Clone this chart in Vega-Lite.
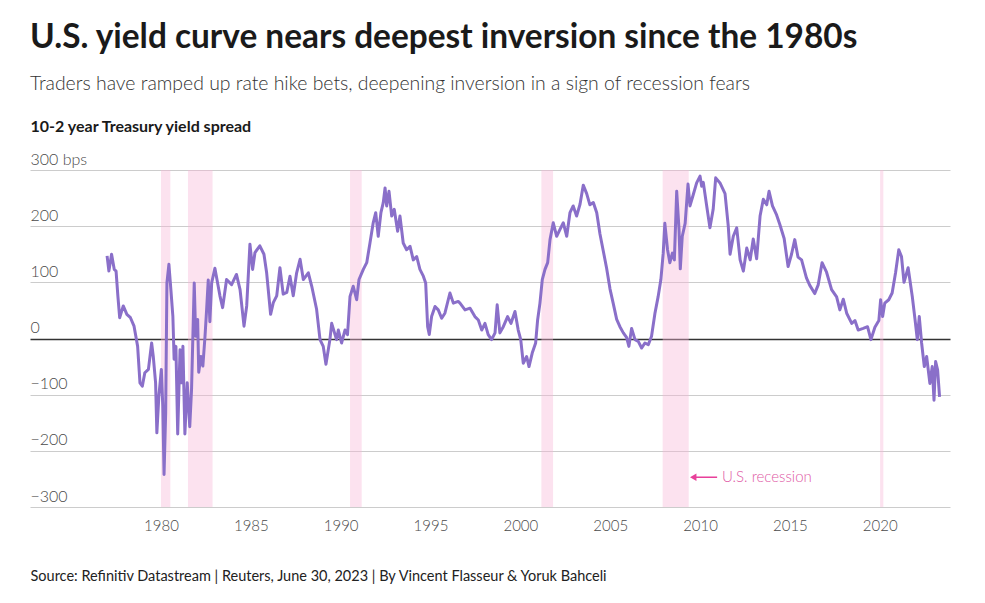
{
  "$schema": "https://vega.github.io/schema/vega-lite/v6.json",
  "width": 920,
  "height": 337,
  "autosize": {"type": "none"},
  "padding": {"left": 30, "top": 170, "right": 35, "bottom": 96},
  "background": "#ffffff",
  "config": {"view": {"stroke": null}, "font": "Lato"},
  "title": {
    "text": "U.S. yield curve nears deepest inversion since the 1980s",
    "subtitle": "Traders have ramped up rate hike bets, deepening inversion in a sign of recession fears",
    "anchor": "start",
    "frame": "group",
    "font": "Lato",
    "fontSize": 33.4,
    "fontWeight": 700,
    "color": "#1a1a1a",
    "subtitleFont": "Lato",
    "subtitleFontSize": 19.4,
    "subtitleFontWeight": 300,
    "subtitleColor": "#333333",
    "subtitlePadding": 19,
    "offset": 24
  },
  "datasets": {
    "recessions": [
      {"year": 1980.0, "end": 1980.52},
      {"year": 1981.5, "end": 1982.87},
      {"year": 1990.52, "end": 1991.17},
      {"year": 2001.17, "end": 2001.82},
      {"year": 2007.92, "end": 2009.37},
      {"year": 2020.02, "end": 2020.2}
    ],
    "arrow": [{"year": 2009.55, "end": 2010.95, "bps": -247}],
    "arrowhead": [{"year": 2009.62, "bps": -247}],
    "label": [{"year": 2011.22, "bps": -247, "text": "U.S. recession"}],
    "spread": [
      {"year": 1977.0, "bps": 147}, {"year": 1977.1, "bps": 120}, {"year": 1977.25, "bps": 150}, {"year": 1977.4, "bps": 123},
      {"year": 1977.5, "bps": 120}, {"year": 1977.6, "bps": 76}, {"year": 1977.7, "bps": 37}, {"year": 1977.9, "bps": 58},
      {"year": 1978.1, "bps": 43}, {"year": 1978.3, "bps": 37}, {"year": 1978.5, "bps": 22}, {"year": 1978.6, "bps": 4},
      {"year": 1978.7, "bps": -14}, {"year": 1978.83, "bps": -79}, {"year": 1978.96, "bps": -85}, {"year": 1979.1, "bps": -61},
      {"year": 1979.3, "bps": -55}, {"year": 1979.48, "bps": -8}, {"year": 1979.57, "bps": -32}, {"year": 1979.7, "bps": -79},
      {"year": 1979.77, "bps": -168}, {"year": 1979.88, "bps": -103}, {"year": 1980.02, "bps": -55}, {"year": 1980.1, "bps": -121},
      {"year": 1980.17, "bps": -242}, {"year": 1980.26, "bps": -133}, {"year": 1980.33, "bps": 99}, {"year": 1980.44, "bps": 132},
      {"year": 1980.55, "bps": 87}, {"year": 1980.66, "bps": 40}, {"year": 1980.73, "bps": -37}, {"year": 1980.83, "bps": -14},
      {"year": 1980.93, "bps": -170}, {"year": 1981.06, "bps": -20}, {"year": 1981.15, "bps": -79}, {"year": 1981.22, "bps": -14},
      {"year": 1981.33, "bps": -170}, {"year": 1981.46, "bps": -79}, {"year": 1981.6, "bps": -157}, {"year": 1981.7, "bps": -91},
      {"year": 1981.85, "bps": 99}, {"year": 1981.93, "bps": 4}, {"year": 1982.04, "bps": 34}, {"year": 1982.1, "bps": -60},
      {"year": 1982.22, "bps": -32}, {"year": 1982.33, "bps": -49}, {"year": 1982.45, "bps": 4}, {"year": 1982.54, "bps": 52},
      {"year": 1982.63, "bps": 104}, {"year": 1982.72, "bps": 30}, {"year": 1982.82, "bps": 99}, {"year": 1983.0, "bps": 125},
      {"year": 1983.28, "bps": 76}, {"year": 1983.43, "bps": 55}, {"year": 1983.65, "bps": 105}, {"year": 1983.93, "bps": 96},
      {"year": 1984.2, "bps": 114}, {"year": 1984.4, "bps": 87}, {"year": 1984.62, "bps": 22}, {"year": 1984.77, "bps": 58},
      {"year": 1984.95, "bps": 168}, {"year": 1985.1, "bps": 123}, {"year": 1985.23, "bps": 153}, {"year": 1985.5, "bps": 165},
      {"year": 1985.73, "bps": 150}, {"year": 1985.88, "bps": 117}, {"year": 1986.1, "bps": 43}, {"year": 1986.25, "bps": 64},
      {"year": 1986.44, "bps": 76}, {"year": 1986.62, "bps": 126}, {"year": 1986.8, "bps": 79}, {"year": 1987.0, "bps": 82},
      {"year": 1987.18, "bps": 111}, {"year": 1987.36, "bps": 76}, {"year": 1987.55, "bps": 117}, {"year": 1987.74, "bps": 141},
      {"year": 1987.92, "bps": 105}, {"year": 1988.2, "bps": 117}, {"year": 1988.39, "bps": 93}, {"year": 1988.66, "bps": 52},
      {"year": 1988.85, "bps": -2}, {"year": 1989.03, "bps": -14}, {"year": 1989.18, "bps": -46}, {"year": 1989.4, "bps": -2},
      {"year": 1989.5, "bps": 27}, {"year": 1989.77, "bps": -2}, {"year": 1989.87, "bps": 15}, {"year": 1990.05, "bps": -8},
      {"year": 1990.24, "bps": 15}, {"year": 1990.38, "bps": 7}, {"year": 1990.52, "bps": 75}, {"year": 1990.7, "bps": 93},
      {"year": 1990.89, "bps": 69}, {"year": 1991.02, "bps": 105}, {"year": 1991.26, "bps": 123}, {"year": 1991.45, "bps": 135},
      {"year": 1991.63, "bps": 170}, {"year": 1991.81, "bps": 206}, {"year": 1991.95, "bps": 224}, {"year": 1992.09, "bps": 182},
      {"year": 1992.24, "bps": 224}, {"year": 1992.37, "bps": 242}, {"year": 1992.47, "bps": 268}, {"year": 1992.56, "bps": 236},
      {"year": 1992.69, "bps": 262}, {"year": 1992.84, "bps": 218}, {"year": 1992.98, "bps": 230}, {"year": 1993.17, "bps": 191},
      {"year": 1993.3, "bps": 218}, {"year": 1993.48, "bps": 170}, {"year": 1993.67, "bps": 158}, {"year": 1993.86, "bps": 164},
      {"year": 1994.04, "bps": 140}, {"year": 1994.23, "bps": 146}, {"year": 1994.41, "bps": 123}, {"year": 1994.6, "bps": 111},
      {"year": 1994.73, "bps": 99}, {"year": 1994.84, "bps": 21}, {"year": 1994.93, "bps": 7}, {"year": 1995.06, "bps": 39},
      {"year": 1995.25, "bps": 57}, {"year": 1995.43, "bps": 51}, {"year": 1995.62, "bps": 36}, {"year": 1995.8, "bps": 45},
      {"year": 1996.08, "bps": 81}, {"year": 1996.27, "bps": 63}, {"year": 1996.54, "bps": 66}, {"year": 1996.64, "bps": 63},
      {"year": 1996.92, "bps": 51}, {"year": 1997.2, "bps": 54}, {"year": 1997.47, "bps": 39}, {"year": 1997.66, "bps": 33},
      {"year": 1997.85, "bps": 15}, {"year": 1998.03, "bps": 27}, {"year": 1998.21, "bps": 7}, {"year": 1998.4, "bps": -2},
      {"year": 1998.59, "bps": 10}, {"year": 1998.71, "bps": 60}, {"year": 1998.86, "bps": 10}, {"year": 1999.05, "bps": 21},
      {"year": 1999.29, "bps": 39}, {"year": 1999.48, "bps": 27}, {"year": 1999.7, "bps": 48}, {"year": 1999.88, "bps": 15},
      {"year": 2000.02, "bps": -2}, {"year": 2000.16, "bps": -44}, {"year": 2000.35, "bps": -32}, {"year": 2000.48, "bps": -50},
      {"year": 2000.66, "bps": -26}, {"year": 2000.85, "bps": -8}, {"year": 2000.96, "bps": 33}, {"year": 2001.09, "bps": 63},
      {"year": 2001.22, "bps": 105}, {"year": 2001.37, "bps": 123}, {"year": 2001.52, "bps": 135}, {"year": 2001.65, "bps": 176},
      {"year": 2001.83, "bps": 206}, {"year": 2002.02, "bps": 182}, {"year": 2002.2, "bps": 194}, {"year": 2002.39, "bps": 206},
      {"year": 2002.58, "bps": 182}, {"year": 2002.76, "bps": 224}, {"year": 2002.94, "bps": 236}, {"year": 2003.13, "bps": 218},
      {"year": 2003.32, "bps": 239}, {"year": 2003.5, "bps": 273}, {"year": 2003.69, "bps": 258}, {"year": 2003.87, "bps": 238},
      {"year": 2004.06, "bps": 242}, {"year": 2004.25, "bps": 224}, {"year": 2004.43, "bps": 186}, {"year": 2004.62, "bps": 155},
      {"year": 2004.8, "bps": 125}, {"year": 2004.99, "bps": 88}, {"year": 2005.17, "bps": 62}, {"year": 2005.36, "bps": 34},
      {"year": 2005.54, "bps": 21}, {"year": 2005.73, "bps": 10}, {"year": 2005.91, "bps": 2}, {"year": 2006.04, "bps": -14},
      {"year": 2006.19, "bps": 18}, {"year": 2006.38, "bps": -2}, {"year": 2006.56, "bps": -5}, {"year": 2006.75, "bps": -17},
      {"year": 2006.93, "bps": -8}, {"year": 2007.12, "bps": -11}, {"year": 2007.3, "bps": 4}, {"year": 2007.49, "bps": 45},
      {"year": 2007.67, "bps": 75}, {"year": 2007.82, "bps": 105}, {"year": 2007.95, "bps": 152}, {"year": 2008.04, "bps": 205},
      {"year": 2008.19, "bps": 158}, {"year": 2008.32, "bps": 135}, {"year": 2008.46, "bps": 152}, {"year": 2008.57, "bps": 140},
      {"year": 2008.7, "bps": 262}, {"year": 2008.83, "bps": 194}, {"year": 2008.9, "bps": 124}, {"year": 2009.01, "bps": 182},
      {"year": 2009.17, "bps": 205}, {"year": 2009.33, "bps": 275}, {"year": 2009.44, "bps": 236}, {"year": 2009.62, "bps": 256},
      {"year": 2009.81, "bps": 277}, {"year": 2010.0, "bps": 289}, {"year": 2010.09, "bps": 271}, {"year": 2010.18, "bps": 278},
      {"year": 2010.36, "bps": 238}, {"year": 2010.55, "bps": 197}, {"year": 2010.73, "bps": 230}, {"year": 2010.87, "bps": 286},
      {"year": 2011.11, "bps": 277}, {"year": 2011.39, "bps": 258}, {"year": 2011.57, "bps": 200}, {"year": 2011.67, "bps": 150},
      {"year": 2011.85, "bps": 182}, {"year": 2012.04, "bps": 197}, {"year": 2012.23, "bps": 140}, {"year": 2012.41, "bps": 120},
      {"year": 2012.6, "bps": 161}, {"year": 2012.79, "bps": 140}, {"year": 2012.96, "bps": 177}, {"year": 2013.15, "bps": 142},
      {"year": 2013.34, "bps": 218}, {"year": 2013.52, "bps": 248}, {"year": 2013.71, "bps": 238}, {"year": 2013.84, "bps": 262},
      {"year": 2014.03, "bps": 236}, {"year": 2014.26, "bps": 220}, {"year": 2014.44, "bps": 203}, {"year": 2014.68, "bps": 178},
      {"year": 2014.9, "bps": 128}, {"year": 2015.09, "bps": 150}, {"year": 2015.27, "bps": 176}, {"year": 2015.45, "bps": 145},
      {"year": 2015.65, "bps": 140}, {"year": 2015.92, "bps": 108}, {"year": 2016.1, "bps": 95}, {"year": 2016.38, "bps": 80},
      {"year": 2016.57, "bps": 95}, {"year": 2016.79, "bps": 135}, {"year": 2017.04, "bps": 118}, {"year": 2017.32, "bps": 87},
      {"year": 2017.6, "bps": 74}, {"year": 2017.78, "bps": 51}, {"year": 2017.97, "bps": 70}, {"year": 2018.16, "bps": 45},
      {"year": 2018.44, "bps": 27}, {"year": 2018.62, "bps": 32}, {"year": 2018.8, "bps": 15}, {"year": 2019.08, "bps": 18},
      {"year": 2019.32, "bps": 21}, {"year": 2019.51, "bps": -2}, {"year": 2019.73, "bps": 20}, {"year": 2019.95, "bps": 32},
      {"year": 2020.05, "bps": 69}, {"year": 2020.16, "bps": 39}, {"year": 2020.28, "bps": 63}, {"year": 2020.5, "bps": 69},
      {"year": 2020.69, "bps": 81}, {"year": 2020.88, "bps": 117}, {"year": 2021.06, "bps": 158}, {"year": 2021.21, "bps": 146},
      {"year": 2021.35, "bps": 100}, {"year": 2021.58, "bps": 126}, {"year": 2021.81, "bps": 75}, {"year": 2021.96, "bps": 35},
      {"year": 2022.09, "bps": -2}, {"year": 2022.2, "bps": 39}, {"year": 2022.33, "bps": -8}, {"year": 2022.48, "bps": -50},
      {"year": 2022.61, "bps": -32}, {"year": 2022.79, "bps": -80}, {"year": 2022.92, "bps": -50}, {"year": 2023.02, "bps": -110},
      {"year": 2023.11, "bps": -41}, {"year": 2023.22, "bps": -56}, {"year": 2023.33, "bps": -104}
    ]
  },
  "encoding": {
    "x": {
      "field": "year",
      "type": "quantitative",
      "scale": {"domain": [1972.71, 2023.91], "nice": false, "zero": false},
      "axis": {
        "values": [1980, 1985, 1990, 1995, 2000, 2005, 2010, 2015, 2020],
        "format": "d",
        "grid": false,
        "domain": false,
        "ticks": false,
        "labelFont": "Lato",
        "labelFontSize": 15,
        "labelFontWeight": 300,
        "labelColor": "#4a4a4a",
        "labelPadding": 11,
        "title": "Source: Refinitiv Datastream | Reuters, June 30, 2023 | By Vincent Flasseur & Yoruk Bahceli",
        "titleFont": "Lato",
        "titleFontSize": 14.5,
        "titleFontWeight": 400,
        "titleColor": "#222222",
        "titleAnchor": "start",
        "titleAlign": "left",
        "titleBaseline": "alphabetic",
        "titleX": 0,
        "titleY": 73
      }
    }
  },
  "layer": [
    {
      "data": {"name": "recessions"},
      "mark": {"type": "rect", "color": "#f7b6d8", "opacity": 0.4},
      "encoding": {
        "x2": {"field": "end"},
        "y": {"datum": 300, "type": "quantitative"},
        "y2": {"datum": -300}
      }
    },
    {
      "data": {"name": "spread"},
      "mark": {"type": "line", "color": "#8a6fc9", "strokeWidth": 3, "strokeJoin": "round"},
      "encoding": {
        "y": {
          "field": "bps",
          "type": "quantitative",
          "scale": {"domain": [-300, 300], "nice": false},
          "axis": {
            "values": [-300, -200, -100, 0, 100, 200, 300],
            "labelExpr": "datum.value === 300 ? '300 bps' : datum.label",
            "grid": true,
            "gridColor": {"condition": {"test": "datum.value === 0", "value": "#333333"}, "value": "#cccccc"},
            "gridWidth": {"condition": {"test": "datum.value === 0", "value": 1.6}, "value": 1},
            "domain": false,
            "ticks": false,
            "tickSize": 0,
            "labelAlign": "left",
            "labelBaseline": "alphabetic",
            "labelPadding": 0,
            "labelOffset": -6,
            "labelFont": "Lato",
            "labelFontSize": 16,
            "labelFontWeight": 300,
            "labelColor": "#4a4a4a",
            "title": "10-2 year Treasury yield spread",
            "titleFont": "Lato",
            "titleFontSize": 16,
            "titleFontWeight": 700,
            "titleColor": "#1a1a1a",
            "titleAngle": 0,
            "titleAlign": "left",
            "titleBaseline": "alphabetic",
            "titleX": 0,
            "titleY": -39
          }
        }
      }
    },
    {
      "data": {"name": "arrow"},
      "mark": {"type": "rule", "color": "#e8409a", "strokeWidth": 1.5},
      "encoding": {
        "x2": {"field": "end"},
        "y": {"field": "bps", "type": "quantitative"}
      }
    },
    {
      "data": {"name": "arrowhead"},
      "mark": {"type": "point", "shape": "triangle-left", "filled": true, "color": "#e8409a", "size": 55, "opacity": 1},
      "encoding": {
        "y": {"field": "bps", "type": "quantitative"}
      }
    },
    {
      "data": {"name": "label"},
      "mark": {"type": "text", "align": "left", "baseline": "middle", "font": "Lato", "fontSize": 15, "fontWeight": 300, "color": "#e05aa5"},
      "encoding": {
        "y": {"field": "bps", "type": "quantitative"},
        "text": {"field": "text"}
      }
    }
  ]
}
